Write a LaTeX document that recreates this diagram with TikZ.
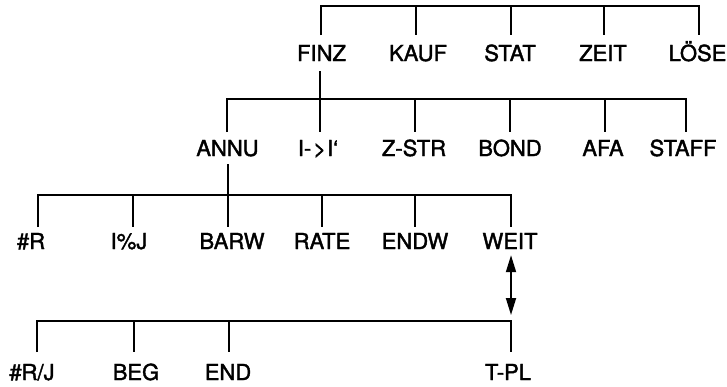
\documentclass[tikz,border=0pt]{standalone}
\usepackage{fontspec}
\setmainfont{TeX Gyre Heros}[FakeBold=1.8]
\usetikzlibrary{arrows.meta}
\begin{document}
\begin{tikzpicture}[x=1pt,y=-1pt,line width=1.8pt,line join=miter,
  lbl/.style={font=\fontsize{22}{24}\selectfont,anchor=base,inner sep=0pt,text height=15.8pt,text depth=0pt},
  rowa/.style={lbl,outer ysep=10.2pt},
  rowb/.style={lbl,outer ysep=8.2pt},
  rowc/.style={lbl,outer ysep=6.2pt},
  rowd/.style={lbl,outer ysep=12.2pt},
  dblarrow/.style={{Triangle[length=17pt,width=10pt]}-{Triangle[length=17pt,width=10pt]}}]
\useasboundingbox (0,0) rectangle (727,386);
% labels
\node[rowa] (finz) at (321.5,61) {FINZ};
\node[rowa] (kauf) at (418,61) {KAUF};
\node[rowa] (stat) at (510,61) {STAT};
\node[rowa] (zeit) at (603,61) {ZEIT};
\node[rowa] (lose) at (697.5,61) {LÖSE};
\node[rowb] (annu) at (227.5,156) {ANNU};
\node[rowb] (ii) at (318,156) {I-\kern2pt>\kern1pt I‘};
\node[rowb] (zstr) at (414,156) {Z-STR};
\node[rowb] (bond) at (510,156) {BOND};
\node[rowb] (afa) at (603,156) {AFA};
\node[rowb] (staff) at (683,156) {STAFF};
\node[rowc] (r) at (31,249) {\#R};
\node[rowc] (ipj) at (129,249) {I\%J};
\node[rowc] (barw) at (232,249) {BARW};
\node[rowc] (rate) at (322,249) {RATE};
\node[rowc] (endw) at (415,249) {ENDW};
\node[rowc] (weit) at (510,249) {WEIT};
\node[rowd] (rj) at (32,380) {\#R/J};
\node[rowd] (beg) at (136,380) {BEG};
\node[rowd] (end) at (228,380) {END};
\node[rowd] (tpl) at (508,380) {T-PL};
% bus 1
\coordinate (a1) at (321,6);
\coordinate (a2) at (416,6);
\coordinate (a3) at (511,6);
\coordinate (a4) at (604,6);
\coordinate (a5) at (699,6);
\draw (a1 |- finz.north) -- (a1) -- (a5) -- (a5 |- lose.north);
\draw (a2) -- (a2 |- kauf.north);
\draw (a3) -- (a3 |- stat.north);
\draw (a4) -- (a4 |- zeit.north);
% bus 2
\coordinate (b1) at (227,99);
\coordinate (b2) at (320,99);
\coordinate (b3) at (415,99);
\coordinate (b4) at (510,99);
\coordinate (b5) at (605,99);
\coordinate (b6) at (686,99);
\draw (b2 |- finz.south) -- (b2);
\draw (b1 |- annu.north) -- (b1) -- (b6) -- (b6 |- staff.north);
\draw (b2) -- (b2 |- ii.north);
\draw (b3) -- (b3 |- zstr.north);
\draw (b4) -- (b4 |- bond.north);
\draw (b5) -- (b5 |- afa.north);
% bus 3
\coordinate (c1) at (38,195);
\coordinate (c2) at (133,195);
\coordinate (c3) at (228,195);
\coordinate (c4) at (322,195);
\coordinate (c5) at (415,195);
\coordinate (c6) at (511,195);
\draw (c3 |- annu.south) -- (c3);
\draw (c1 |- r.north) -- (c1) -- (c6) -- (c6 |- weit.north);
\draw (c2) -- (c2 |- ipj.north);
\draw (c3) -- (c3 |- barw.north);
\draw (c4) -- (c4 |- rate.north);
\draw (c5) -- (c5 |- endw.north);
% bus 4
\coordinate (d1) at (37,321);
\coordinate (d2) at (134,321);
\coordinate (d3) at (229,321);
\coordinate (d4) at (511,321);
\draw (d1 |- rj.north) -- (d1) -- (d4) -- (d4 |- tpl.north);
\draw (d2) -- (d2 |- beg.north);
\draw (d3) -- (d3 |- end.north);
% double arrow
\draw[dblarrow,shorten >=6pt] (d4 |- weit.south) -- (d4);
\end{tikzpicture}
\end{document}
